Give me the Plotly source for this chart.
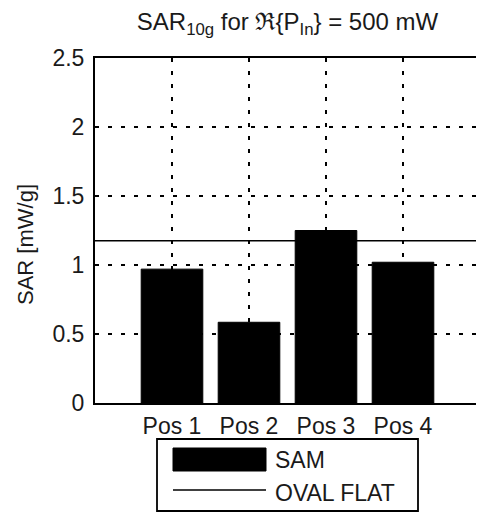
import plotly.graph_objects as go

positions = [1, 2, 3, 4]
pos_labels = ["Pos 1", "Pos 2", "Pos 3", "Pos 4"]
sam_values = [0.97, 0.585, 1.25, 1.02]
oval_flat_value = 1.175
oval_x = [0, 5]
y_ticks = [0, 0.5, 1, 1.5, 2, 2.5]
y_tick_labels = ["0", "0.5", "1", "1.5", "2", "2.5"]

# page offsets the figure by the default 8px body margin
OFF = 8
W, H = 484 - OFF, 513 - OFF
# desired plot box in window pixels: x 95..480, y 58..403
L, R, T, B = 95 - OFF, W - (480 - OFF), 58 - OFF, H - (403 - OFF)
PW, PH = W - L - R, H - T - B

def px(x):
    return (x - OFF - L) / PW

def py(y):
    return (H - B - (y - OFF)) / PH

FONT = "Liberation Sans, Arial, sans-serif"
TXT = "#1a1a1a"
FS = 23
GRID_DASH = "4px,9px"

fig = go.Figure()
fig.add_trace(go.Bar(x=positions, y=sam_values, width=0.8, name="SAM",
                     marker=dict(color="black", line=dict(color="black", width=1)),
                     showlegend=False))
fig.add_trace(go.Scatter(x=oval_x, y=[oval_flat_value] * len(oval_x), mode="lines",
                         name="OVAL FLAT", line=dict(color="black", width=1.5),
                         showlegend=False))

# legend (drawn manually to mimic the original style)
shapes = [
    dict(type="rect", xref="paper", yref="paper", x0=px(157), x1=px(418), y0=py(439), y1=py(511),
         line=dict(color="black", width=1.8), fillcolor="white"),
    dict(type="rect", xref="paper", yref="paper", x0=px(173), x1=px(266), y0=py(448), y1=py(471),
         line=dict(color="black", width=1), fillcolor="black"),
    dict(type="line", xref="paper", yref="paper", x0=px(173), x1=px(266), y0=py(490), y1=py(490),
         line=dict(color="black", width=1.5)),
]
annotations = [
    dict(text="SAM", xref="paper", yref="paper", x=px(273), y=py(460), xanchor="left",
         yanchor="middle", showarrow=False, font=dict(family=FONT, size=FS, color=TXT)),
    dict(text="OVAL FLAT", xref="paper", yref="paper", x=px(273), y=py(493), xanchor="left",
         yanchor="middle", showarrow=False, font=dict(family=FONT, size=FS, color=TXT)),
    dict(text="SAR [mW/g]", xref="paper", yref="paper", x=px(25), y=py(245), xanchor="center",
         yanchor="middle", textangle=-90, showarrow=False,
         font=dict(family=FONT, size=22, color=TXT)),
]

fig.update_layout(
    width=W, height=H,
    margin=dict(l=L, r=R, t=T, b=B, autoexpand=False),
    paper_bgcolor="white", plot_bgcolor="white",
    font=dict(family=FONT, size=FS, color=TXT),
    title=dict(text="SAR<sub>10g</sub> for \u211c{P<sub>In</sub>} = 500 mW",
               x=0.5, xref="paper", xanchor="center", y=1 - (22 - OFF) / H, yanchor="middle",
               font=dict(family=FONT, size=24, color=TXT)),
    shapes=shapes, annotations=annotations,
)
fig.update_xaxes(range=[0, 5], tickvals=positions, ticktext=pos_labels, automargin=False,
                 showgrid=True, gridcolor="black", griddash=GRID_DASH, gridwidth=1.6,
                 showline=True, linecolor="black", linewidth=2, mirror=True,
                 ticks="inside", ticklen=4, tickcolor="black", zeroline=False,
                 tickfont=dict(family=FONT, size=FS, color=TXT), ticklabelstandoff=1)
fig.update_yaxes(range=[0, 2.5], tickvals=y_ticks, ticktext=y_tick_labels, automargin=False,
                 showgrid=True, gridcolor="black", griddash=GRID_DASH, gridwidth=1.6,
                 showline=True, linecolor="black", linewidth=2, mirror=True,
                 ticks="inside", ticklen=4, tickcolor="black", zeroline=False,
                 tickfont=dict(family=FONT, size=FS, color=TXT), ticklabelstandoff=4)

fig.write_html("out.html")
